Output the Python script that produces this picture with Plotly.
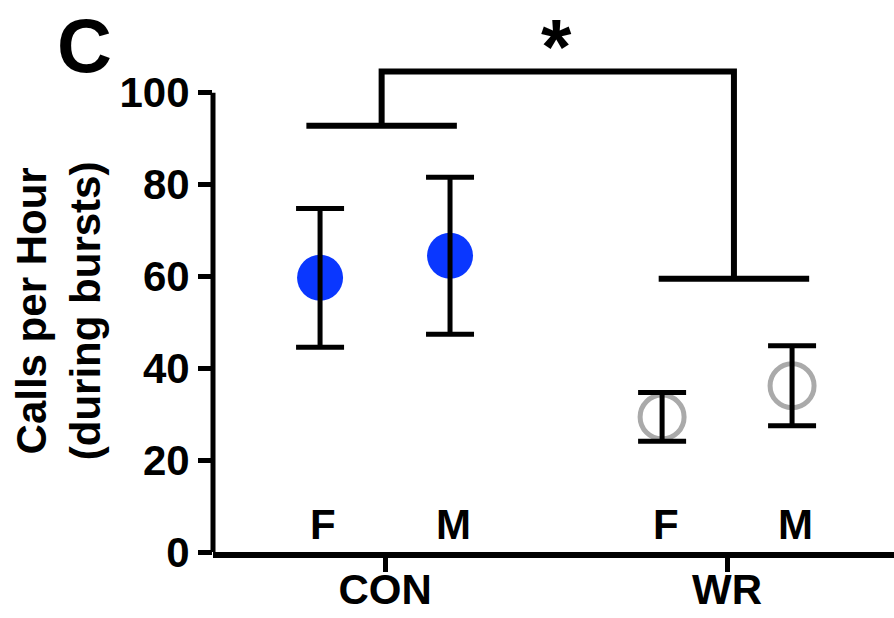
import plotly.graph_objects as go

# ---- data ----
groups = ["CON", "WR"]
group_pos = [1, 2]
sexes = ["F", "M"]
sex_offset = [-0.19, 0.19]
con_mean = [59.7, 64.5]
con_sem = [15.1, 17.1]
wr_mean = [29.4, 36.2]
wr_sem = [5.3, 8.7]
y_ticks = [0, 20, 40, 60, 80, 100]
bracket_group_level = [92.8, 59.5]
bracket_top = 104.6
bracket_center = [0.99, 2.02]
bracket_half = 0.22
star_text = "*"

FONT = "Liberation Sans, Arial, sans-serif"
BLUE = "#0a37ff"
GRAY = "#aaaaaa"

con_x = [group_pos[0] + o for o in sex_offset]
wr_x = [group_pos[1] + o for o in sex_offset]

fig = go.Figure()

# markers
fig.add_trace(go.Scatter(x=con_x, y=con_mean, mode="markers",
                         marker=dict(size=46, color=BLUE, line=dict(width=0)),
                         showlegend=False))
fig.add_trace(go.Scatter(x=wr_x, y=wr_mean, mode="markers",
                         marker=dict(size=44, symbol="circle-open", color=GRAY,
                                     line=dict(width=5, color=GRAY)),
                         showlegend=False))
# error bars on top
fig.add_trace(go.Scatter(x=con_x + wr_x, y=con_mean + wr_mean, mode="markers",
                         marker=dict(size=1, opacity=0),
                         error_y=dict(type="data", array=con_sem + wr_sem, visible=True,
                                      color="black", thickness=5, width=24),
                         showlegend=False))

# significance bracket
bx, by = [], []
for c, lvl in zip(bracket_center, bracket_group_level):
    bx += [c - bracket_half, c + bracket_half, None]
    by += [lvl, lvl, None]
bx += [bracket_center[0], bracket_center[0], bracket_center[1], bracket_center[1]]
by += [bracket_group_level[0], bracket_top, bracket_top, bracket_group_level[1]]
fig.add_trace(go.Scatter(x=bx, y=by, mode="lines",
                         line=dict(color="black", width=6), showlegend=False))

annotations = []
# F / M labels
for xs in (con_x, wr_x):
    for x, s in zip(xs, sexes):
        annotations.append(dict(x=x + 0.01, y=6, xref="x", yref="y", text=s,
                                showarrow=False,
                                font=dict(family=FONT, size=42, color="black", weight="bold")))
# star
annotations.append(dict(x=1.50, y=1.0166, xref="x", yref="paper", yanchor="top",
                        text=star_text, showarrow=False,
                        font=dict(family=FONT, size=78, color="black", weight="bold")))
# panel letter
annotations.append(dict(x=-0.188, y=1.0166, xref="paper", yref="paper", text="C",
                        showarrow=False, xanchor="center", yanchor="top",
                        font=dict(family=FONT, size=76, color="black", weight="bold")))
# y title
annotations.append(dict(x=-0.227, y=0.445, xref="paper", yref="paper",
                        text="Calls per Hour<br>(during bursts)", textangle=-90,
                        showarrow=False, xanchor="center", yanchor="middle",
                        font=dict(family=FONT, size=42, color="black", weight="bold")))

fig.update_layout(
    width=894, height=618,
    margin=dict(l=213, r=0, t=10, b=66),
    paper_bgcolor="white", plot_bgcolor="white",
    annotations=annotations,
    shapes=[dict(type="line", xref="paper", yref="y", x0=0, x1=0, y0=0, y1=100,
                 line=dict(color="black", width=5))],
    xaxis=dict(range=[0.497, 2.488], tickvals=group_pos, ticktext=groups,
               showline=True, linewidth=6, linecolor="black", automargin=False,
               ticks="outside", ticklen=14, tickwidth=5, tickcolor="black",
               ticklabelstandoff=-18,
               showgrid=False, zeroline=False,
               tickfont=dict(family=FONT, size=42, color="black", weight="bold")),
    yaxis=dict(range=[0, 118], tickvals=y_ticks, ticktext=[str(v) for v in y_ticks],
               showline=False, ticks="outside", ticklen=14, tickwidth=5, tickcolor="black",
               showgrid=False, zeroline=False, automargin=False,
               tickfont=dict(family=FONT, size=42, color="black", weight="bold")),
)

# remove the browser's default 8px body margin so the figure fills the window
fig.write_html("out.html", config={"displayModeBar": False},
               post_script="document.body.style.margin='0';")
